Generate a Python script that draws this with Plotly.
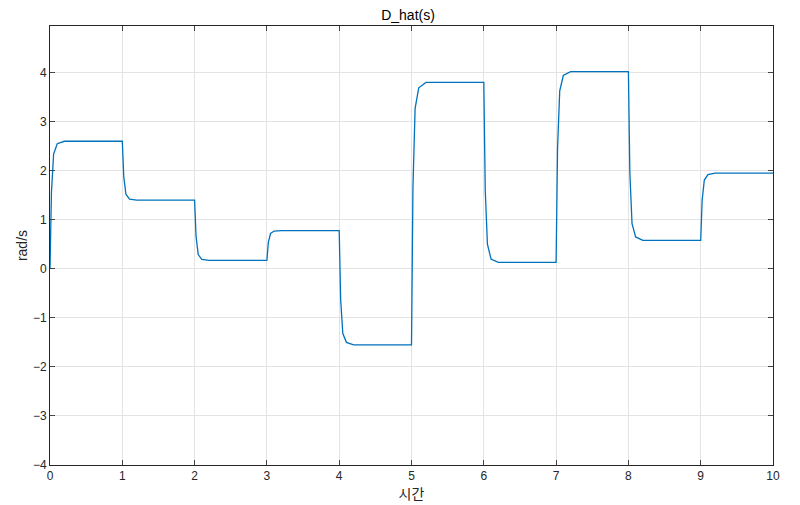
import plotly.graph_objects as go

# key points (time, value)
t = [0, 0.02, 0.05, 0.1, 0.2, 1.0,
     1.02, 1.05, 1.1, 1.2, 2.0,
     2.02, 2.05, 2.1, 2.2, 3.0,
     3.02, 3.05, 3.1, 3.2, 4.0,
     4.02, 4.05, 4.1, 4.2, 5.0,
     5.02, 5.05, 5.1, 5.2, 6.0,
     6.02, 6.05, 6.1, 6.2, 7.0,
     7.02, 7.05, 7.1, 7.2, 8.0,
     8.02, 8.05, 8.1, 8.2, 9.0,
     9.02, 9.05, 9.1, 9.2, 10.0]
d_hat = [0, 1.56, 2.34, 2.55, 2.6, 2.6,
         1.88, 1.52, 1.42, 1.4, 1.4,
         0.66, 0.29, 0.19, 0.17, 0.17,
         0.54, 0.72, 0.77, 0.78, 0.78,
         -0.62, -1.32, -1.50, -1.55, -1.55,
         1.66, 3.27, 3.69, 3.8, 3.8,
         1.6, 0.5, 0.2, 0.13, 0.13,
         2.46, 3.63, 3.94, 4.02, 4.02,
         1.96, 0.92, 0.65, 0.58, 0.58,
         1.4, 1.81, 1.92, 1.95, 1.95]

fig = go.Figure()
fig.add_scatter(x=t, y=d_hat, mode="lines", line=dict(color="#0072BD", width=1.3))

fig.update_layout(
    width=800, height=505, showlegend=False,
    plot_bgcolor="white", paper_bgcolor="white",
    margin=dict(l=42, r=35, t=18, b=48, autoexpand=False),
    font=dict(family="Liberation Sans, Noto Sans CJK KR", size=12, color="#262626"),
    title=dict(text="D_hat(s)", x=0.5, xanchor="center", y=0.995, yanchor="top",
               font=dict(size=14, color="#000")),
)
axis_style = dict(showline=True, linecolor="#262626", linewidth=1, mirror="ticks",
                  showgrid=True, gridcolor="#e3e3e3", ticks="inside", ticklen=5,
                  zeroline=False, automargin=False)
fig.update_xaxes(range=[0, 10], dtick=1,
                 title=dict(text="시간", standoff=2, font=dict(size=14, family="Noto Sans CJK KR")),
                 **axis_style)
fig.update_yaxes(range=[-4, 4.95], tickvals=[-4, -3, -2, -1, 0, 1, 2, 3, 4],
                 title=dict(text="rad/s", standoff=2, font=dict(size=14)), **axis_style)

fig.write_html("out.html")
